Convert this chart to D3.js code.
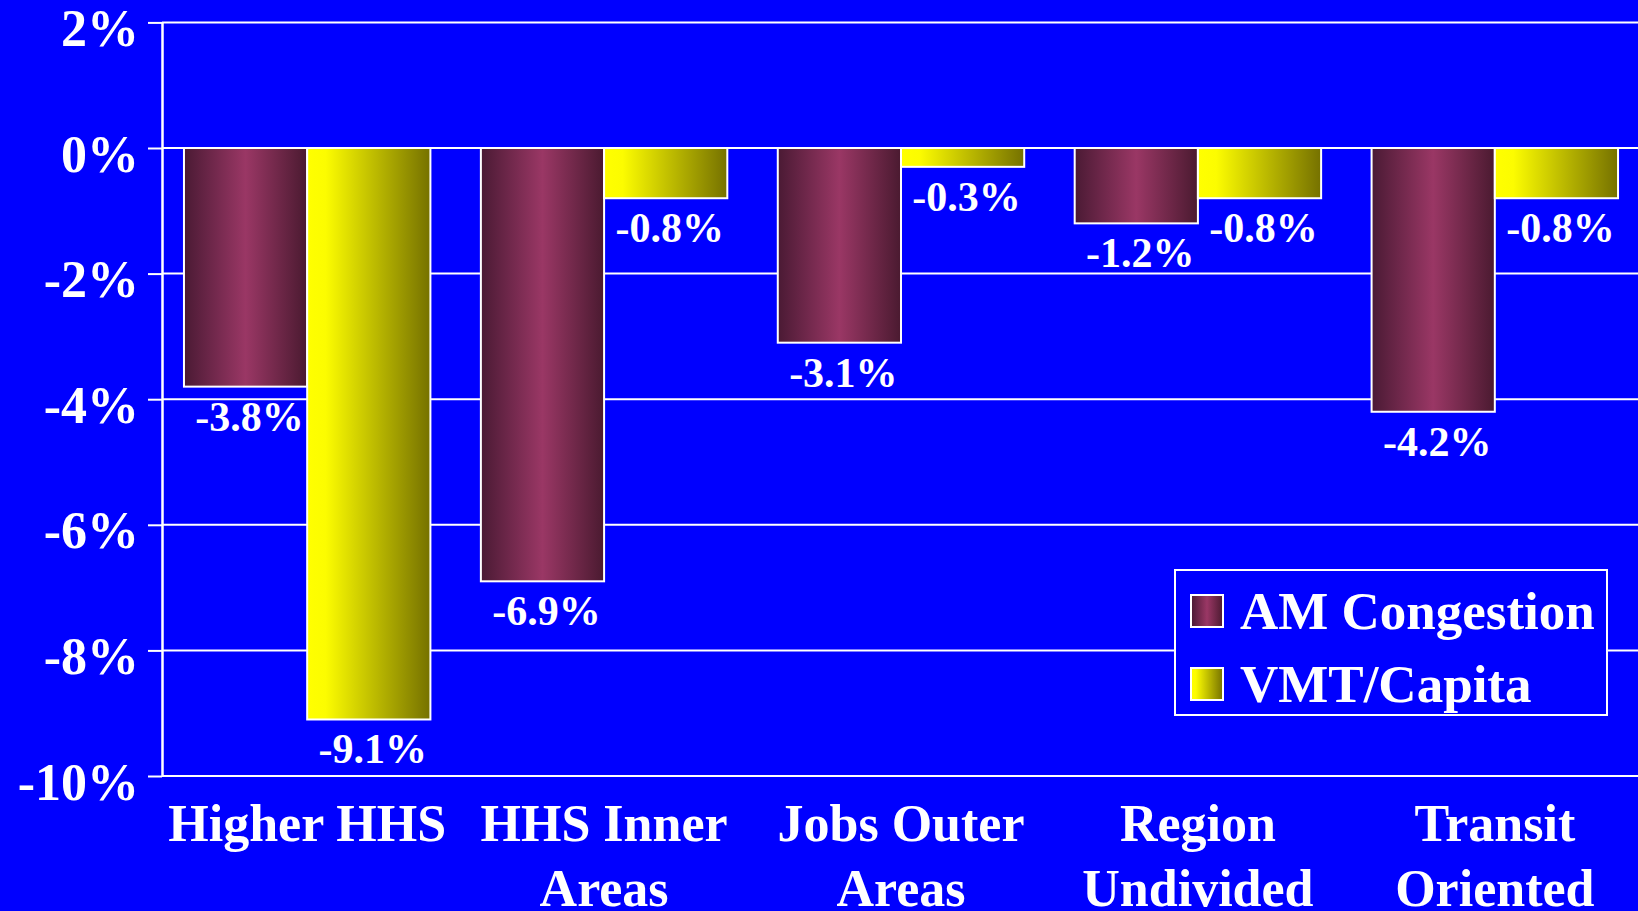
<!DOCTYPE html>
<html>
<head>
<meta charset="utf-8">
<script src="https://cdn.jsdelivr.net/npm/d3@7"></script>
<style>
  body { margin: 0; background: #0000ff; overflow: hidden; }
  text { font-family: "Liberation Serif", "Times New Roman", serif; font-weight: bold; fill: #ffffff; }
</style>
</head>
<body>
<div id="vis"></div>
<script>
const FRAME_WIDTH = 1638;
const FRAME_HEIGHT = 911;
const MARGINS = {left: 162, right: -2, top: 22, bottom: 135};

// data
const CATEGORIES = ["Higher HHS", "HHS Inner Areas", "Jobs Outer Areas", "Region Undivided", "Transit Oriented"];
const CATEGORY_LINES = [["Higher HHS"], ["HHS Inner", "Areas"], ["Jobs Outer", "Areas"], ["Region", "Undivided"], ["Transit", "Oriented"]];
const SERIES = ["AM Congestion", "VMT/Capita"];
const AM_CONGESTION = [-3.8, -6.9, -3.1, -1.2, -4.2];
const VMT_CAPITA = [-9.1, -0.8, -0.3, -0.8, -0.8];
const Y_TICKS = [2, 0, -2, -4, -6, -8, -10];

const data = CATEGORIES.map((c, i) => ({
  category: c,
  values: [
    {series: SERIES[0], value: AM_CONGESTION[i]},
    {series: SERIES[1], value: VMT_CAPITA[i]}
  ]
}));

// plain hyphen instead of the unicode minus d3.format gives
const fmtPct = (v) => d3.format(".1f")(v).replace("\u2212", "-") + "%";

const FRAME = d3.select("#vis")
                .append("svg")
                  .attr("width", FRAME_WIDTH)
                  .attr("height", FRAME_HEIGHT);

FRAME.append("rect")
      .attr("width", FRAME_WIDTH)
      .attr("height", FRAME_HEIGHT)
      .attr("fill", "#0000ff");

// gradients
const defs = FRAME.append("defs");
const amGrad = defs.append("linearGradient").attr("id", "grad-am")
                   .attr("x1", "0%").attr("x2", "100%").attr("y1", "0%").attr("y2", "0%");
amGrad.append("stop").attr("offset", "0%").attr("stop-color", "#4a1a34");
amGrad.append("stop").attr("offset", "50%").attr("stop-color", "#9a3765");
amGrad.append("stop").attr("offset", "100%").attr("stop-color", "#4a1a30");
const vmtGrad = defs.append("linearGradient").attr("id", "grad-vmt")
                    .attr("x1", "0%").attr("x2", "100%").attr("y1", "0%").attr("y2", "0%");
vmtGrad.append("stop").attr("offset", "0%").attr("stop-color", "#ffff00");
vmtGrad.append("stop").attr("offset", "15%").attr("stop-color", "#fcfc00");
vmtGrad.append("stop").attr("offset", "100%").attr("stop-color", "#757100");

const COLOR = d3.scaleOrdinal().domain(SERIES).range(["url(#grad-am)", "url(#grad-vmt)"]);

const X0 = d3.scaleBand()
             .domain(CATEGORIES)
             .range([MARGINS.left, 1640])
             .paddingInner(0.17)
             .paddingOuter(0.074);

const X1 = d3.scaleBand()
             .domain(SERIES)
             .range([0, X0.bandwidth()]);

const Y = d3.scaleLinear()
            .domain([2, -10])
            .range([MARGINS.top + 0.4, 776]);

// gridlines
FRAME.append("g")
      .selectAll("line")
      .data(Y_TICKS)
      .enter()
      .append("line")
        .attr("x1", MARGINS.left)
        .attr("x2", FRAME_WIDTH + 10)
        .attr("y1", d => Y(d))
        .attr("y2", d => Y(d))
        .attr("stroke", "#ffffff")
        .attr("stroke-width", 2);

// y axis
const yAxis = FRAME.append("g")
      .attr("transform", "translate(" + MARGINS.left + ",0)")
      .call(d3.axisLeft(Y).tickValues(Y_TICKS).tickFormat(d => d + "%")
              .tickSize(14).tickSizeOuter(0).tickPadding(9));
yAxis.select(".domain").attr("stroke", "#ffffff").attr("stroke-width", 2.5);
yAxis.selectAll(".tick line").attr("stroke", "#ffffff").attr("stroke-width", 2);
yAxis.selectAll(".tick text")
      .attr("font-size", "52px")
      .attr("dy", "23px")
      .attr("fill", "#ffffff");

// bars
const groups = FRAME.append("g")
      .selectAll(".group")
      .data(data)
      .enter()
      .append("g")
        .attr("transform", d => "translate(" + X0(d.category) + ",0)");

groups.selectAll("rect")
      .data(d => d.values)
      .enter()
      .append("rect")
        .attr("x", d => X1(d.series))
        .attr("y", Y(0))
        .attr("width", X1.bandwidth())
        .attr("height", d => Y(d.value) - Y(0))
        .attr("fill", d => COLOR(d.series))
        .attr("stroke", "#ffffff")
        .attr("stroke-width", 2);

groups.selectAll(".val")
      .data(d => d.values)
      .enter()
      .append("text")
        .attr("class", "val")
        .attr("x", d => X1(d.series) + X1.bandwidth() / 2 + 4)
        .attr("y", d => Y(d.value) + 44)
        .attr("text-anchor", "middle")
        .attr("font-size", "42px")
        .text(d => fmtPct(d.value));

// zero line on top of bars
FRAME.append("line")
      .attr("x1", MARGINS.left)
      .attr("x2", FRAME_WIDTH + 10)
      .attr("y1", Y(0))
      .attr("y2", Y(0))
      .attr("stroke", "#ffffff")
      .attr("stroke-width", 2);

// category labels
const cats = FRAME.append("g")
      .selectAll(".cat")
      .data(CATEGORIES)
      .enter()
      .append("text")
        .attr("class", "cat")
        .attr("text-anchor", "middle")
        .attr("font-size", "52px")
        .attr("x", d => X0(d) + X0.bandwidth() / 2)
        .attr("y", Y(-10) + 65);

cats.selectAll("tspan")
      .data((d, i) => CATEGORY_LINES[i])
      .enter()
      .append("tspan")
        .attr("x", function() { return d3.select(this.parentNode).attr("x"); })
        .attr("dy", (d, i) => i === 0 ? 0 : 65)
        .text(d => d);

// legend
const legend = FRAME.append("g").attr("transform", "translate(1175,570)");
legend.append("rect")
      .attr("width", 432)
      .attr("height", 145)
      .attr("fill", "#0000ff")
      .attr("stroke", "#ffffff")
      .attr("stroke-width", 2);

const items = legend.selectAll(".item")
      .data(SERIES)
      .enter()
      .append("g")
        .attr("transform", (d, i) => "translate(16," + (25 + i * 73) + ")");

items.append("rect")
      .attr("width", 32)
      .attr("height", 32)
      .attr("fill", d => COLOR(d))
      .attr("stroke", "#ffffff")
      .attr("stroke-width", 2);

items.append("text")
      .attr("x", 49)
      .attr("y", 34)
      .attr("font-size", "53px")
      .text(d => d);
</script>
</body>
</html>
